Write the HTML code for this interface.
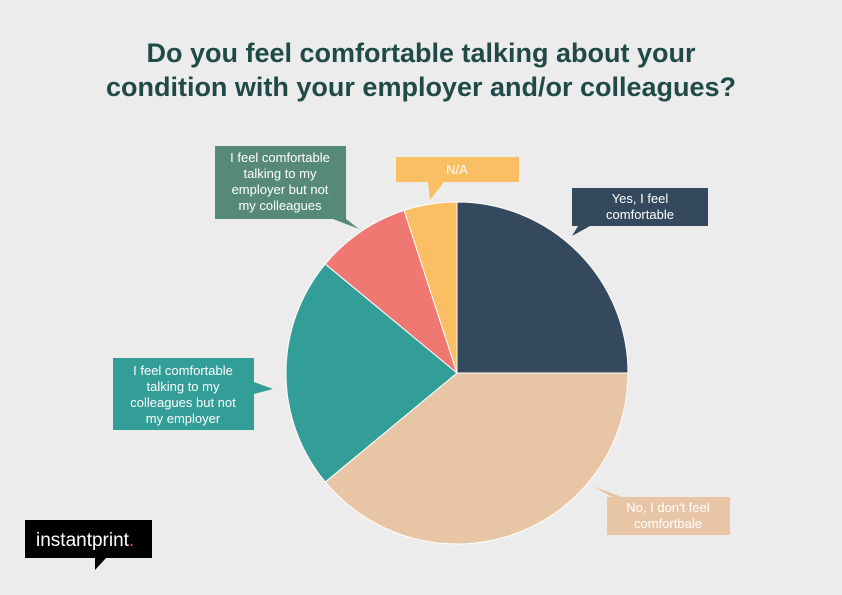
<!DOCTYPE html>
<html><head><meta charset="utf-8"><style>
body{margin:0;width:842px;height:595px;background:#ececec;font-family:"Liberation Sans",sans-serif;overflow:hidden}
svg{position:absolute;left:0;top:0}
</style></head><body>
<svg width="842" height="595">
<text x="421" y="62" text-anchor="middle" font-size="27" font-weight="bold" fill="#1f4a47">Do you feel comfortable talking about your</text>
<text x="421" y="96" text-anchor="middle" font-size="27" font-weight="bold" fill="#1f4a47">condition with your employer and/or colleagues?</text>
<g id="slices"></g>
<g id="callouts" font-size="13" fill="#fff" text-anchor="middle">
<g><path d="M572,188H708V226H590L572,236L578,226H572Z" fill="#34495e"/><text x="640" y="203" fill="#fff">Yes, I feel</text><text x="640" y="219" fill="#fff">comfortable</text></g>
<g><path d="M607,497H612L592,486L622,497H730V535H607Z" fill="#e8c5a4"/><text x="668" y="512" fill="#fff">No, I don't feel</text><text x="668" y="528" fill="#fff">comfortbale</text></g>
<g><path d="M396,157H519V182H444L430,200L428,182H396Z" fill="#fbbf63"/><text x="457" y="174" fill="#fff">N/A</text></g>
<g><path d="M215,146H346V219L359,229L333,219H215Z" fill="#568a76"/><text x="280" y="162" fill="#fff">I feel comfortable</text><text x="280" y="178" fill="#fff">talking to my</text><text x="280" y="194" fill="#fff">employer but not</text><text x="280" y="210" fill="#fff">my colleagues</text></g>
<g><path d="M113,358H254V382L273,389L254,394V430H113Z" fill="#339d98"/><text x="183" y="375" fill="#fff">I feel comfortable</text><text x="183" y="391" fill="#fff">talking to my</text><text x="183" y="407" fill="#fff">colleagues but not</text><text x="183" y="423" fill="#fff">my employer</text></g>
</g>
<g><path d="M25,520H152V558H106L95,570V558H25Z" fill="#000"/><text x="36" y="546" font-size="19" fill="#fff">instantprint<tspan fill="#e8443a">.</tspan></text></g>
</svg>
<script>
const categories=["Yes, I feel comfortable","No, I don't feel comfortbale","Colleagues but not employer","Employer but not colleagues","N/A"];
const values=[25,39,22,9,5];
const colors=["#34495e","#e8c5a4","#339d98","#ef7873","#fbbf63"];
const cx=457,cy=373,r=171;
const g=document.getElementById('slices');
const total=values.reduce((a,b)=>a+b,0);
let a0=0;
values.forEach((v,i)=>{
 const a1=a0+v/total*2*Math.PI;
 const p=(a)=>[cx+r*Math.sin(a),cy-r*Math.cos(a)];
 const [x0,y0]=p(a0),[x1,y1]=p(a1);
 const path=document.createElementNS('http://www.w3.org/2000/svg','path');
 path.setAttribute('d',`M${cx},${cy}L${x0},${y0}A${r},${r} 0 ${a1-a0>Math.PI?1:0} 1 ${x1},${y1}Z`);
 path.setAttribute('fill',colors[i]);
 path.setAttribute('stroke','#fff');
 path.setAttribute('stroke-width','1');
 
 
 g.appendChild(path);
 a0=a1;
});
</script>
</body></html>
